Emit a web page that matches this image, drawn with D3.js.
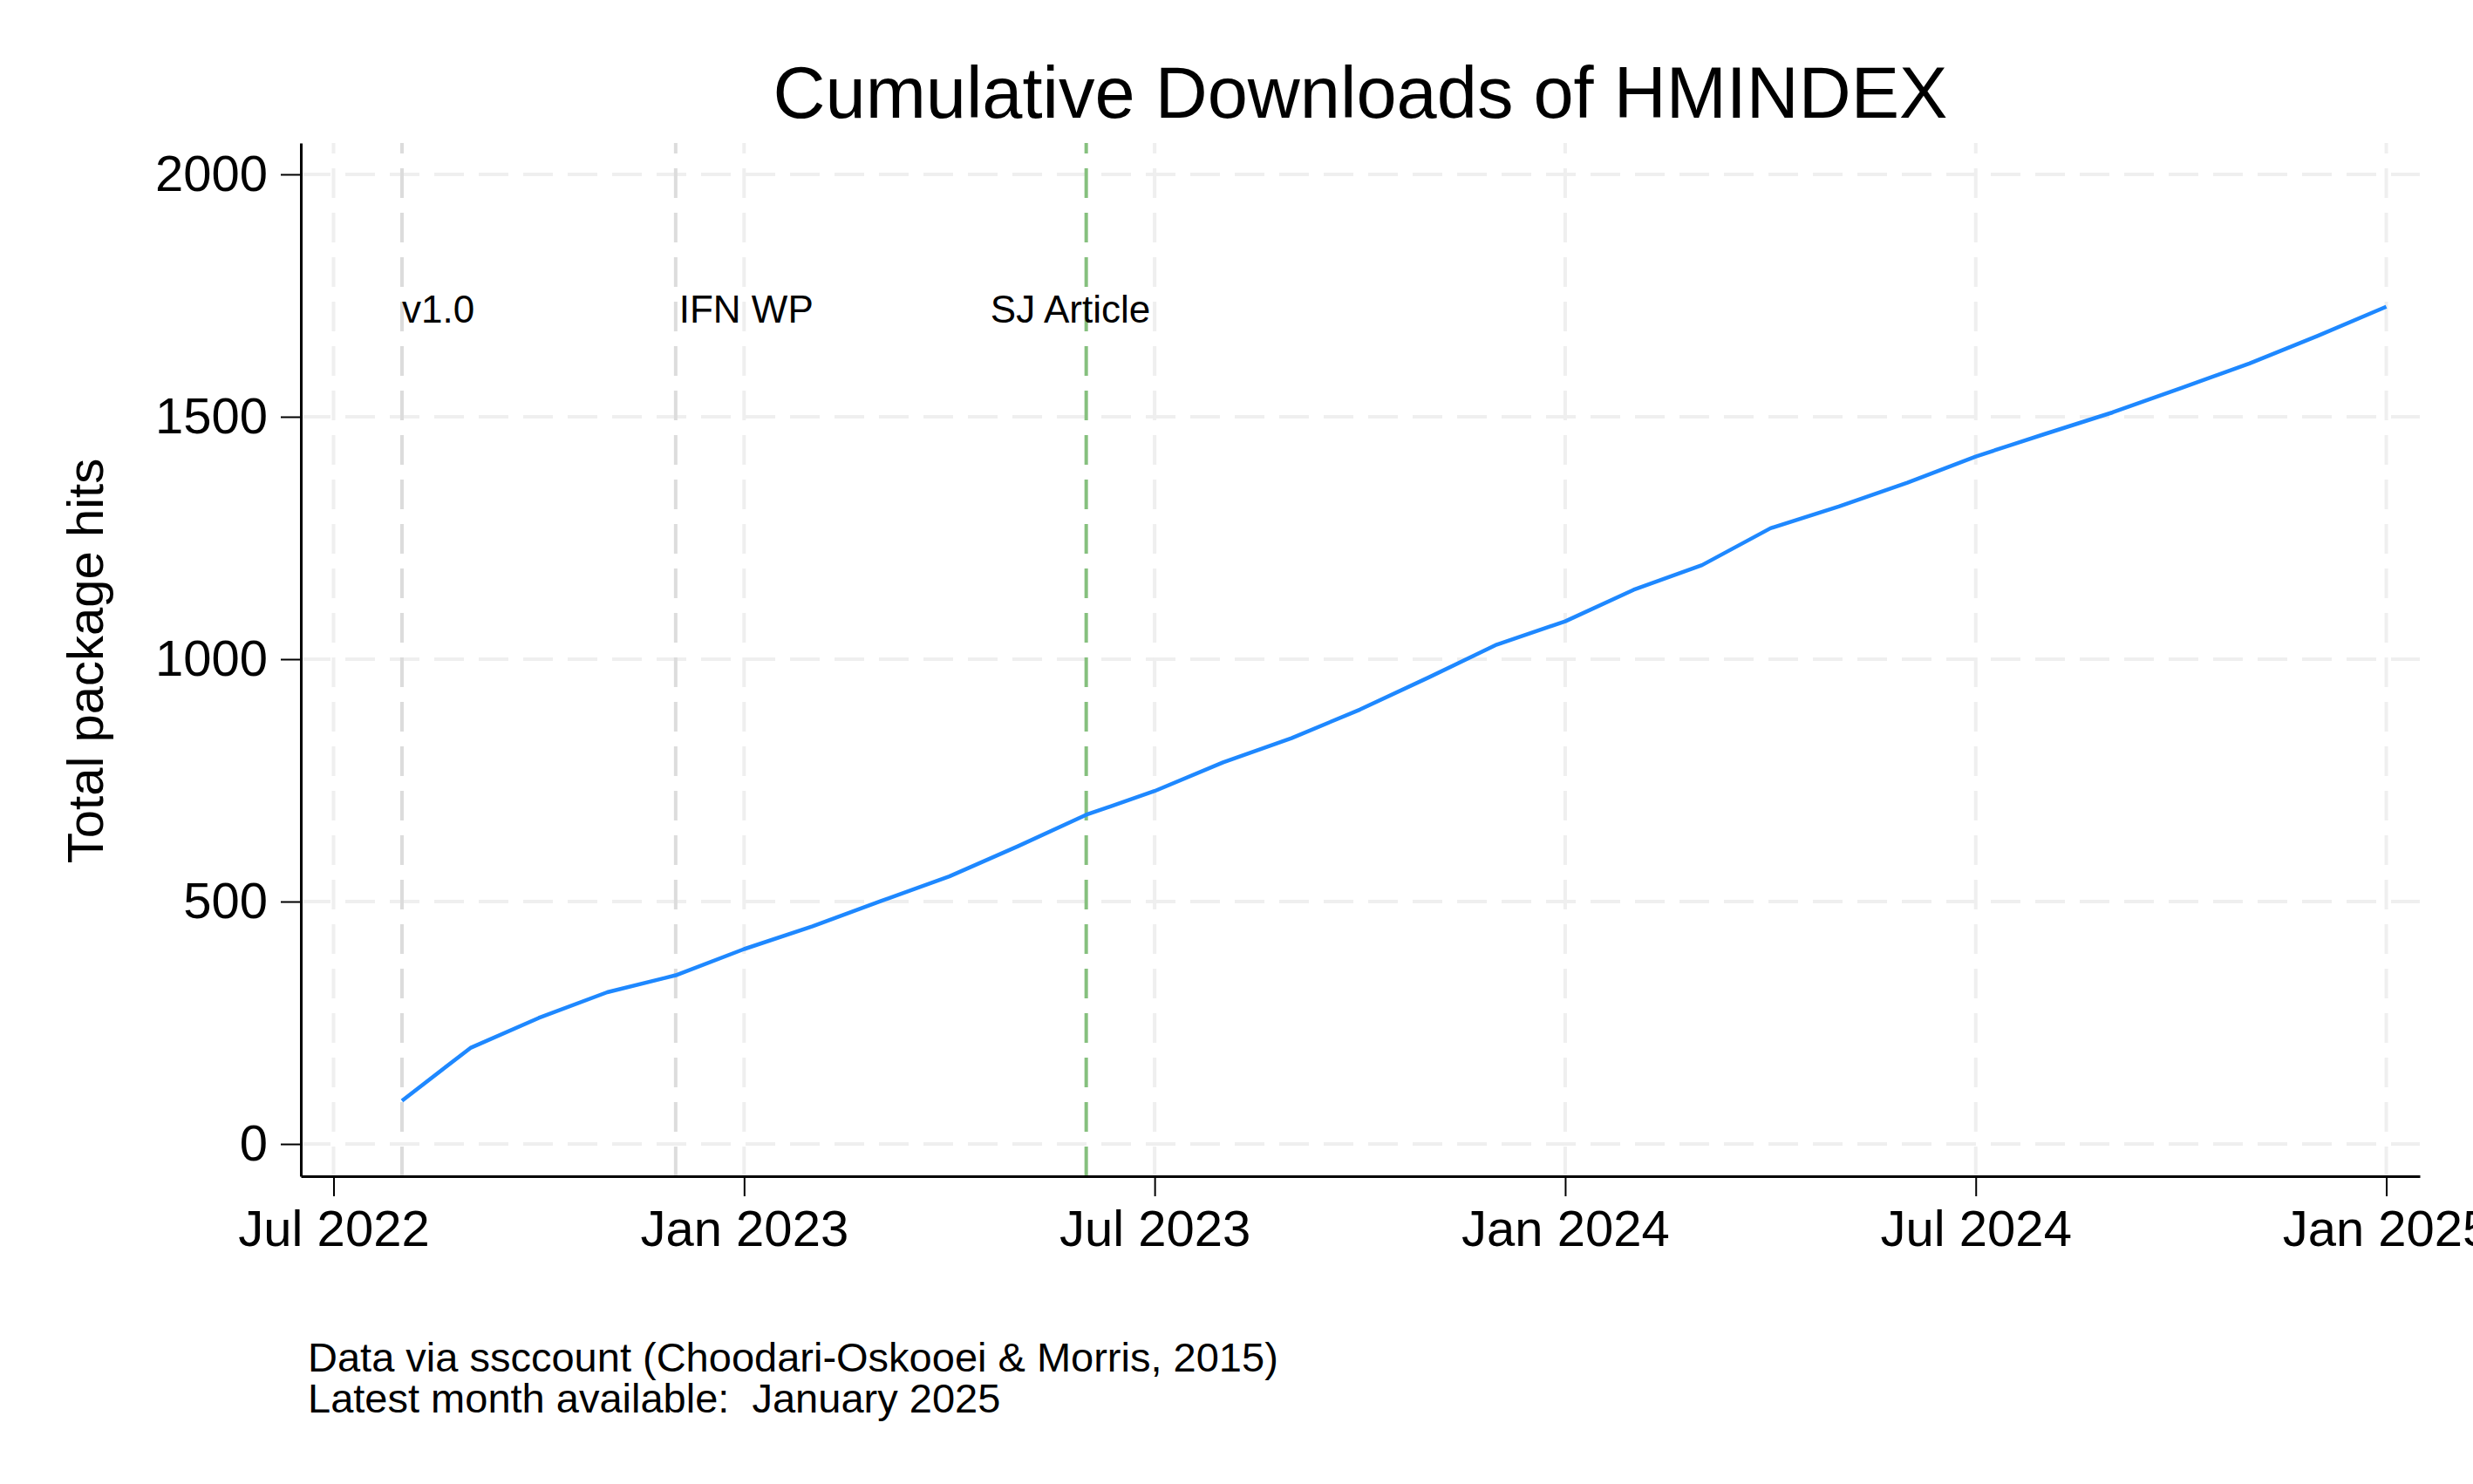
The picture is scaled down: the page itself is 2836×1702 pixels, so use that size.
<!DOCTYPE html>
<html>
<head>
<meta charset="utf-8">
<script src="https://cdn.jsdelivr.net/npm/d3@7"></script>
<style>
  html, body { margin: 0; padding: 0; background: #ffffff; }
  svg { display: block; }
  text { font-family: "Liberation Sans", Arial, Helvetica, sans-serif; fill: #000; white-space: pre; }
</style>
</head>
<body>
<script>
// ---------- DATA ----------
const months = ["2022-08","2022-09","2022-10","2022-11","2022-12",
                "2023-01","2023-02","2023-03","2023-04","2023-05","2023-06",
                "2023-07","2023-08","2023-09","2023-10","2023-11","2023-12",
                "2024-01","2024-02","2024-03","2024-04","2024-05","2024-06",
                "2024-07","2024-08","2024-09","2024-10","2024-11","2024-12",
                "2025-01"];
const cumulativeHits = [89, 198, 260, 313, 348,
                        402, 449, 501, 552, 614, 679,
                        728, 787, 837, 896, 962, 1030,
                        1078, 1143, 1194, 1270, 1315, 1364,
                        1418, 1464, 1509, 1559, 1610, 1667,
                        1727];
const xTickMonths = ["2022-07","2023-01","2023-07","2024-01","2024-07","2025-01"];
const xTickLabels = ["Jul 2022","Jan 2023","Jul 2023","Jan 2024","Jul 2024","Jan 2025"];
const yTicks = [0, 500, 1000, 1500, 2000];
const eventNames = ["v1.0", "IFN WP", "SJ Article"];
const eventMonths = ["2022-08", "2022-12", "2023-06"];
const eventLabelShift = [0, 0.05, -1.4];   // label offset, in months
const eventLabelValue = 1695;
const titleText = "Cumulative Downloads of HMINDEX";
const yTitle = "Total package hits";
const notes = ["Data via ssccount (Choodari-Oskooei & Morris, 2015)",
               "Latest month available:  January 2025"];

// ---------- SETUP ----------
const W = 2836, H = 1702;
const origin = "2022-07";
function monthIndex(s) {
  const [y0, m0] = origin.split("-").map(Number);
  const [y, m] = s.split("-").map(Number);
  return (y - y0) * 12 + (m - m0);
}
const data = months.map((m, i) => ({ t: monthIndex(m), v: cumulativeHits[i] }));

const svg = d3.select("body").append("svg").attr("width", W).attr("height", H);
svg.append("rect").attr("width", W).attr("height", H).attr("fill", "#fff");

const plotL = 345, plotR = 2775, plotT = 164, plotB = 1349;
const x = d3.scaleLinear().domain([-0.478, 30.49]).range([plotL, plotR]);
const y = d3.scaleLinear().domain([-66.5, 2064.7]).range([plotB, plotT]);

const dash = "34,17";

// horizontal grid
svg.append("g").selectAll("line").data(yTicks).join("line")
  .attr("x1", plotL).attr("x2", plotR)
  .attr("y1", d => y(d)).attr("y2", d => y(d))
  .attr("stroke", "#efefef").attr("stroke-width", 4).attr("stroke-dasharray", dash);

// vertical grid (drawn from bottom upward)
svg.append("g").selectAll("line").data(xTickMonths).join("line")
  .attr("x1", d => x(monthIndex(d))).attr("x2", d => x(monthIndex(d)))
  .attr("y1", plotB).attr("y2", plotT)
  .attr("stroke", "#efefef").attr("stroke-width", 4).attr("stroke-dasharray", dash);

// event lines
const eventColors = ["#dcdcdc", "#dcdcdc", "#86c07e"];
svg.append("g").selectAll("line").data(eventMonths).join("line")
  .attr("x1", d => x(monthIndex(d))).attr("x2", d => x(monthIndex(d)))
  .attr("y1", plotB).attr("y2", plotT)
  .attr("stroke", (d, i) => eventColors[i]).attr("stroke-width", 4).attr("stroke-dasharray", dash);

// event labels
svg.append("g").selectAll("text").data(eventNames).join("text")
  .attr("x", (d, i) => x(monthIndex(eventMonths[i]) + eventLabelShift[i]))
  .attr("y", y(eventLabelValue))
  .attr("font-size", 44)
  .text(d => d);

// line
svg.append("path").datum(data)
  .attr("fill", "none").attr("stroke", "#1e88ff").attr("stroke-width", 4.5)
  .attr("stroke-linejoin", "round")
  .attr("d", d3.line().x(d => x(d.t)).y(d => y(d.v)));

// axes
const xAxis = d3.axisBottom(x)
  .tickValues(xTickMonths.map(monthIndex))
  .tickFormat((d, i) => xTickLabels[i])
  .tickSize(23).tickSizeOuter(0).tickPadding(16);
const gx = svg.append("g").attr("transform", `translate(0,${plotB})`).call(xAxis);
gx.select(".domain").attr("stroke", "#000").attr("stroke-width", 3);
gx.selectAll(".tick line").attr("stroke", "#000").attr("stroke-width", 2);
gx.selectAll(".tick text").attr("font-size", 58).attr("font-family", "Liberation Sans, Arial, sans-serif").attr("fill", "#000");

const yAxis = d3.axisLeft(y).tickValues(yTicks).tickFormat(d3.format("d"))
  .tickSize(23).tickSizeOuter(0).tickPadding(15);
const gy = svg.append("g").attr("transform", `translate(${plotL},0)`).call(yAxis);
gy.select(".domain").attr("stroke", "#000").attr("stroke-width", 3);
gy.selectAll(".tick line").attr("stroke", "#000").attr("stroke-width", 2);
gy.selectAll(".tick text").attr("font-size", 58).attr("font-family", "Liberation Sans, Arial, sans-serif").attr("fill", "#000");

// title
svg.append("text").attr("x", (plotL + plotR) / 2).attr("y", 135)
  .attr("text-anchor", "middle").attr("font-size", 83).text(titleText);

// y title
svg.append("text").attr("transform", `translate(118,758) rotate(-90)`)
  .attr("text-anchor", "middle").attr("font-size", 58).text(yTitle);

// notes
svg.append("g").selectAll("text").data(notes).join("text")
  .attr("x", 353).attr("y", (d, i) => 1573 + i * 47)
  .attr("font-size", 47).attr("xml:space", "preserve").text(d => d);
</script>
</body>
</html>
